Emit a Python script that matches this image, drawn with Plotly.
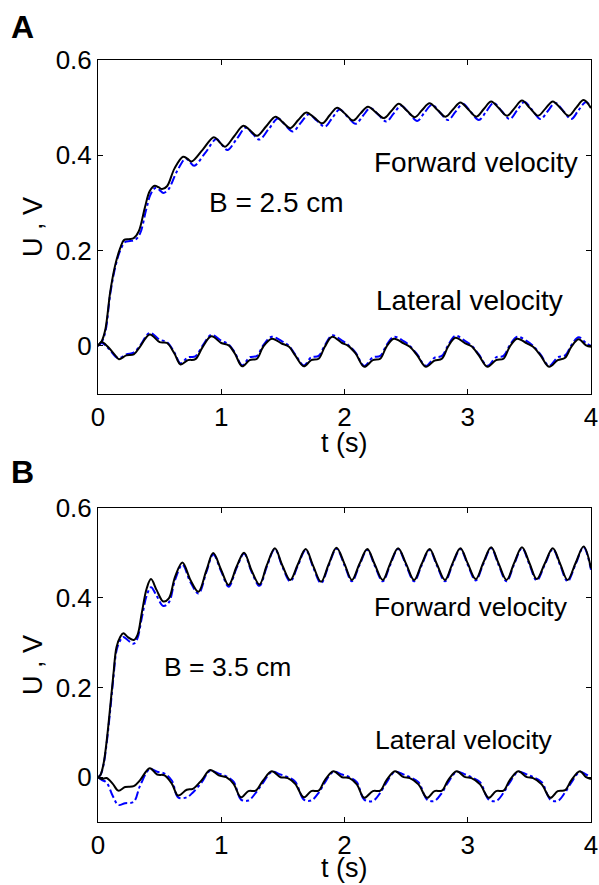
import plotly.graph_objects as go

# ---------------- data ----------------
# Panel A (B = 2.5 cm): forward velocity
t_fwd_a_black = [0, 0.03, 0.06, 0.10, 0.14, 0.18, 0.21, 0.25, 0.29, 0.33, 0.38, 0.42, 0.46, 0.49, 0.52, 0.56, 0.62, 0.69, 0.725, 0.76,
                 0.85, 0.94, 0.985, 1.03, 1.105, 1.18, 1.235, 1.29, 1.365, 1.44, 1.50, 1.56, 1.625, 1.69, 1.755, 1.82, 1.88, 1.94, 2.005, 2.07,
                 2.13, 2.19, 2.255, 2.32, 2.38, 2.44, 2.505, 2.57, 2.63, 2.69, 2.755, 2.82, 2.88, 2.94, 3.005, 3.07, 3.13, 3.19, 3.255, 3.32,
                 3.38, 3.44, 3.505, 3.57, 3.63, 3.69, 3.755, 3.82, 3.88, 3.94, 4.0]
v_fwd_a_black = [0, 0.01, 0.035, 0.115, 0.17, 0.205, 0.222, 0.224, 0.226, 0.24, 0.29, 0.325, 0.336, 0.333, 0.329, 0.335, 0.372, 0.397, 0.393, 0.387,
                 0.412, 0.438, 0.428, 0.418, 0.44, 0.462, 0.452, 0.441, 0.461, 0.481, 0.469, 0.457, 0.474, 0.490, 0.479, 0.467, 0.484, 0.500, 0.487, 0.473,
                 0.488, 0.502, 0.490, 0.478, 0.493, 0.508, 0.494, 0.480, 0.495, 0.509, 0.495, 0.481, 0.496, 0.511, 0.496, 0.481, 0.497, 0.513, 0.498, 0.483,
                 0.499, 0.515, 0.499, 0.483, 0.498, 0.513, 0.498, 0.483, 0.500, 0.516, 0.499]
t_fwd_a_blue = [0, 0.03, 0.06, 0.10, 0.14, 0.18, 0.22, 0.26, 0.30, 0.34, 0.39, 0.43, 0.47, 0.50, 0.53, 0.57, 0.64, 0.71, 0.745, 0.78,
                0.87, 0.96, 1.005, 1.05, 1.125, 1.20, 1.255, 1.31, 1.385, 1.46, 1.52, 1.58, 1.645, 1.71, 1.775, 1.84, 1.90, 1.96, 2.025, 2.09,
                2.15, 2.21, 2.275, 2.34, 2.40, 2.46, 2.525, 2.59, 2.65, 2.71, 2.775, 2.84, 2.90, 2.96, 3.025, 3.09, 3.15, 3.21, 3.275, 3.34,
                3.40, 3.46, 3.525, 3.59, 3.65, 3.71, 3.775, 3.84, 3.90, 3.96, 4.0]
v_fwd_a_blue = [0, 0.008, 0.03, 0.11, 0.165, 0.2, 0.218, 0.22, 0.222, 0.235, 0.285, 0.32, 0.332, 0.327, 0.321, 0.328, 0.366, 0.393, 0.386, 0.378,
                0.405, 0.434, 0.422, 0.411, 0.434, 0.458, 0.445, 0.433, 0.455, 0.477, 0.463, 0.450, 0.468, 0.486, 0.473, 0.460, 0.478, 0.496, 0.481, 0.466,
                0.483, 0.499, 0.485, 0.471, 0.488, 0.504, 0.488, 0.472, 0.490, 0.506, 0.490, 0.474, 0.491, 0.508, 0.491, 0.474, 0.492, 0.510, 0.493, 0.476,
                0.494, 0.512, 0.494, 0.476, 0.493, 0.510, 0.493, 0.476, 0.495, 0.512, 0.500]

# Panel A: lateral velocity
t_lat_a = [0, 0.03, 0.08, 0.14, 0.17, 0.23, 0.29, 0.34, 0.42, 0.50, 0.56, 0.62, 0.67, 0.73, 0.79, 0.85, 0.92, 1.00, 1.06, 1.11,
           1.17, 1.23, 1.29, 1.34, 1.41, 1.49, 1.55, 1.60, 1.67, 1.73, 1.79, 1.84, 1.90, 1.98, 2.03, 2.09, 2.16, 2.23, 2.29, 2.34,
           2.40, 2.48, 2.53, 2.59, 2.66, 2.73, 2.79, 2.84, 2.90, 2.98, 3.03, 3.09, 3.16, 3.23, 3.29, 3.34, 3.40, 3.48, 3.53, 3.59,
           3.66, 3.73, 3.79, 3.84, 3.90, 3.96, 4.0]
v_lat_a_black = [0, 0.008, -0.002, -0.02, -0.028, -0.02, -0.018, -0.002, 0.024, 0.008, 0.006, -0.016, -0.039, -0.030, -0.028, -0.002, 0.020, 0.006, 0.001, -0.016,
                 -0.043, -0.030, -0.027, -0.002, 0.015, 0.005, -0.002, -0.020, -0.043, -0.030, -0.027, -0.002, 0.019, 0.006, 0.0, -0.016, -0.044, -0.030, -0.027, -0.002,
                 0.015, 0.005, -0.002, -0.020, -0.044, -0.031, -0.027, -0.002, 0.017, 0.005, -0.001, -0.020, -0.044, -0.030, -0.027, -0.002, 0.015, 0.005, -0.002, -0.020,
                 -0.044, -0.030, -0.025, -0.002, 0.014, 0.001, -0.002]
v_lat_a_blue = [0, 0.006, -0.004, -0.022, -0.026, -0.018, -0.014, 0.0, 0.027, 0.013, 0.008, -0.014, -0.037, -0.024, -0.022, 0.001, 0.023, 0.011, 0.003, -0.014,
                -0.041, -0.024, -0.021, 0.001, 0.019, 0.010, 0.0, -0.018, -0.041, -0.024, -0.021, 0.001, 0.022, 0.011, 0.002, -0.014, -0.042, -0.024, -0.021, 0.001,
                0.019, 0.010, 0.0, -0.018, -0.042, -0.025, -0.021, 0.001, 0.021, 0.010, 0.001, -0.018, -0.042, -0.024, -0.021, 0.001, 0.019, 0.010, 0.0, -0.018,
                -0.042, -0.024, -0.020, 0.001, 0.018, 0.006, 0.0]

# Panel B (B = 3.5 cm): forward velocity
t_fwd_b = [0, 0.02, 0.045, 0.07, 0.10, 0.125, 0.15, 0.18, 0.205, 0.245, 0.29, 0.32, 0.355, 0.395, 0.43, 0.475, 0.53, 0.575, 0.625, 0.685,
           0.75, 0.815, 0.88, 0.935, 1.0, 1.06, 1.125, 1.185, 1.245, 1.31, 1.37, 1.435, 1.495, 1.56, 1.62, 1.685, 1.745, 1.81, 1.87, 1.935,
           2.0, 2.06, 2.12, 2.185, 2.245, 2.31, 2.37, 2.435, 2.50, 2.565, 2.625, 2.69, 2.75, 2.815, 2.875, 2.94, 3.0, 3.065, 3.125, 3.19,
           3.25, 3.315, 3.375, 3.44, 3.50, 3.56, 3.625, 3.69, 3.75, 3.81, 3.875, 3.94, 4.0]
v_fwd_b_black = [0, 0.005, 0.03, 0.08, 0.16, 0.23, 0.29, 0.313, 0.321, 0.312, 0.306, 0.317, 0.366, 0.421, 0.442, 0.418, 0.392, 0.399, 0.447, 0.479,
                 0.440, 0.414, 0.462, 0.500, 0.462, 0.429, 0.470, 0.501, 0.462, 0.430, 0.473, 0.511, 0.473, 0.440, 0.474, 0.509, 0.472, 0.436, 0.474, 0.512,
                 0.476, 0.440, 0.475, 0.509, 0.475, 0.440, 0.476, 0.511, 0.476, 0.440, 0.475, 0.509, 0.475, 0.440, 0.476, 0.511, 0.477, 0.442, 0.478, 0.513,
                 0.477, 0.440, 0.477, 0.513, 0.478, 0.442, 0.477, 0.511, 0.476, 0.440, 0.478, 0.515, 0.466]
v_fwd_b_blue = [0, 0.005, 0.028, 0.075, 0.152, 0.222, 0.282, 0.305, 0.313, 0.305, 0.298, 0.31, 0.355, 0.405, 0.424, 0.405, 0.382, 0.39, 0.44, 0.474,
                0.435, 0.410, 0.458, 0.497, 0.459, 0.425, 0.467, 0.499, 0.459, 0.427, 0.470, 0.509, 0.470, 0.437, 0.471, 0.507, 0.469, 0.433, 0.471, 0.510,
                0.473, 0.437, 0.472, 0.507, 0.472, 0.437, 0.473, 0.509, 0.473, 0.437, 0.472, 0.507, 0.472, 0.437, 0.473, 0.509, 0.474, 0.439, 0.475, 0.511,
                0.474, 0.437, 0.474, 0.511, 0.475, 0.439, 0.474, 0.509, 0.473, 0.437, 0.475, 0.513, 0.463]

# Panel B: lateral velocity
t_lat_b = [0, 0.03, 0.07, 0.12, 0.165, 0.22, 0.29, 0.34, 0.42, 0.48, 0.54, 0.60, 0.65, 0.72, 0.77, 0.84, 0.91, 0.98, 1.04, 1.10,
           1.16, 1.22, 1.28, 1.34, 1.41, 1.48, 1.54, 1.60, 1.67, 1.73, 1.79, 1.84, 1.91, 1.98, 2.04, 2.10, 2.16, 2.23, 2.29, 2.34,
           2.41, 2.48, 2.53, 2.60, 2.67, 2.73, 2.79, 2.84, 2.91, 2.98, 3.03, 3.10, 3.17, 3.23, 3.29, 3.34, 3.41, 3.48, 3.53, 3.60,
           3.67, 3.73, 3.79, 3.84, 3.91, 3.96, 4.0]
v_lat_b_black = [0, -0.004, -0.002, -0.015, -0.030, -0.022, -0.020, -0.007, 0.020, 0.006, 0.004, -0.015, -0.041, -0.028, -0.026, -0.007, 0.016, 0.004, 0.0, -0.015,
                 -0.045, -0.031, -0.030, -0.007, 0.013, 0.0, -0.002, -0.015, -0.045, -0.031, -0.030, -0.007, 0.013, 0.0, -0.002, -0.016, -0.046, -0.031, -0.030, -0.007,
                 0.013, 0.0, -0.002, -0.016, -0.046, -0.031, -0.030, -0.007, 0.013, 0.0, -0.002, -0.016, -0.046, -0.031, -0.030, -0.007, 0.013, 0.0, -0.002, -0.016,
                 -0.046, -0.031, -0.029, -0.007, 0.013, 0.0, -0.004]
v_lat_b_blue = [0, -0.006, -0.012, -0.042, -0.062, -0.058, -0.055, -0.02, 0.018, 0.012, 0.008, -0.008, -0.045, -0.045, -0.034, -0.012, 0.014, 0.008, 0.002, -0.010,
                -0.050, -0.052, -0.035, -0.012, 0.012, 0.006, 0.0, -0.010, -0.050, -0.052, -0.035, -0.012, 0.012, 0.006, 0.0, -0.011, -0.050, -0.053, -0.035, -0.012,
                0.012, 0.006, 0.0, -0.011, -0.050, -0.053, -0.035, -0.012, 0.012, 0.006, 0.0, -0.011, -0.050, -0.053, -0.035, -0.012, 0.012, 0.006, 0.0, -0.011,
                -0.050, -0.053, -0.034, -0.012, 0.012, 0.006, 0.0]

x_ticks = [0, 1, 2, 3, 4]
y_ticks = [0, 0.2, 0.4, 0.6]
y_tick_text = ["0", "0.2", "0.4", "0.6"]

# ---------------- figure ----------------
W, H = 599, 885
FONT = "Arial, 'Liberation Sans', sans-serif"
BLUE = "#0000FF"
BLACK = "#000000"

fig = go.Figure()

def add_pair(t_blue, v_blue, t_black, v_black, xa, ya):
    fig.add_trace(go.Scatter(x=t_blue, y=v_blue, mode="lines", xaxis=xa, yaxis=ya,
                             line=dict(color=BLUE, width=2, dash="dashdot", shape="spline", smoothing=1),
                             showlegend=False, hoverinfo="skip"))
    fig.add_trace(go.Scatter(x=t_black, y=v_black, mode="lines", xaxis=xa, yaxis=ya,
                             line=dict(color=BLACK, width=2, shape="spline", smoothing=1),
                             showlegend=False, hoverinfo="skip"))

add_pair(t_fwd_a_blue, v_fwd_a_blue, t_fwd_a_black, v_fwd_a_black, "x", "y")
add_pair(t_lat_a, v_lat_a_blue, t_lat_a, v_lat_a_black, "x", "y")
add_pair(t_fwd_b, v_fwd_b_blue, t_fwd_b, v_fwd_b_black, "x2", "y2")
add_pair(t_lat_b, v_lat_b_blue, t_lat_b, v_lat_b_black, "x2", "y2")

xdom = [98 / W, 591 / W]
ydom_a = [1 - 393.5 / H, 1 - 60 / H]
ydom_b = [1 - 822 / H, 1 - 508.3 / H]

xcommon = dict(range=[0, 4], tickvals=x_ticks, ticks="inside", ticklen=5, tickwidth=1, tickcolor="black",
               showline=True, linecolor="black", linewidth=1, mirror="allticks", showgrid=False, zeroline=False,
               automargin=False, tickfont=dict(family=FONT, size=26, color="black"), domain=xdom)
ycommon = dict(range=[-0.1, 0.6], tickvals=y_ticks, ticktext=y_tick_text, ticks="inside", ticklen=5, tickwidth=1,
               tickcolor="black", showline=True, linecolor="black", linewidth=1, mirror="allticks", showgrid=False,
               zeroline=False, automargin=False, tickfont=dict(family=FONT, size=26, color="black"))

fig.update_layout(
    width=W, height=H, margin=dict(l=0, r=0, t=0, b=0, pad=0, autoexpand=False),
    paper_bgcolor="white", plot_bgcolor="white", showlegend=False,
    xaxis=dict(**xcommon, anchor="y"),
    yaxis=dict(**ycommon, domain=ydom_a, anchor="x"),
    xaxis2=dict(**xcommon, anchor="y2"),
    yaxis2=dict(**ycommon, domain=ydom_b, anchor="x2"),
)

def ann(text, x, y, xref="paper", yref="paper", size=26, xanchor="center", yanchor="middle", bold=False, angle=0):
    fig.add_annotation(text=f"<b>{text}</b>" if bold else text, x=x, y=y, xref=xref, yref=yref,
                       showarrow=False, xanchor=xanchor, yanchor=yanchor, textangle=angle,
                       font=dict(family=FONT, size=size, color="black"))

# panel letters
ann("A", 22 / W, 1 - 27 / H, size=32, bold=True)
ann("B", 22 / W, 1 - 472 / H, size=32, bold=True)

# axis titles
ann("U , V", 33 / W, 1 - 227 / H, size=27, angle=-90)
ann("U , V", 33 / W, 1 - 665 / H, size=27, angle=-90)
ann("t (s)", 344.5 / W, 1 - 426 / H, size=27, yanchor="top")
ann("t (s)", 344.5 / W, 1 - 885 / H, size=27, yanchor="bottom")

# in-plot labels
ann("Forward velocity", 3.911, 0.384, xref="x", yref="y", size=28, xanchor="right")
ann("B = 2.5 cm", 0.882, 0.30, xref="x", yref="y", size=28, xanchor="left")
ann("Lateral velocity", 3.79, 0.096, xref="x", yref="y", size=28, xanchor="right")
ann("Forward velocity", 3.83, 0.380, xref="x2", yref="y2", size=26.5, xanchor="right")
ann("B = 3.5 cm", 0.517, 0.246, xref="x2", yref="y2", size=26.5, xanchor="left")
ann("Lateral velocity", 3.708, 0.082, xref="x2", yref="y2", size=26.5, xanchor="right")

fig.write_html("out.html", config={"displayModeBar": False},
               post_script="document.body.style.margin='0';document.body.style.overflow='hidden';")
